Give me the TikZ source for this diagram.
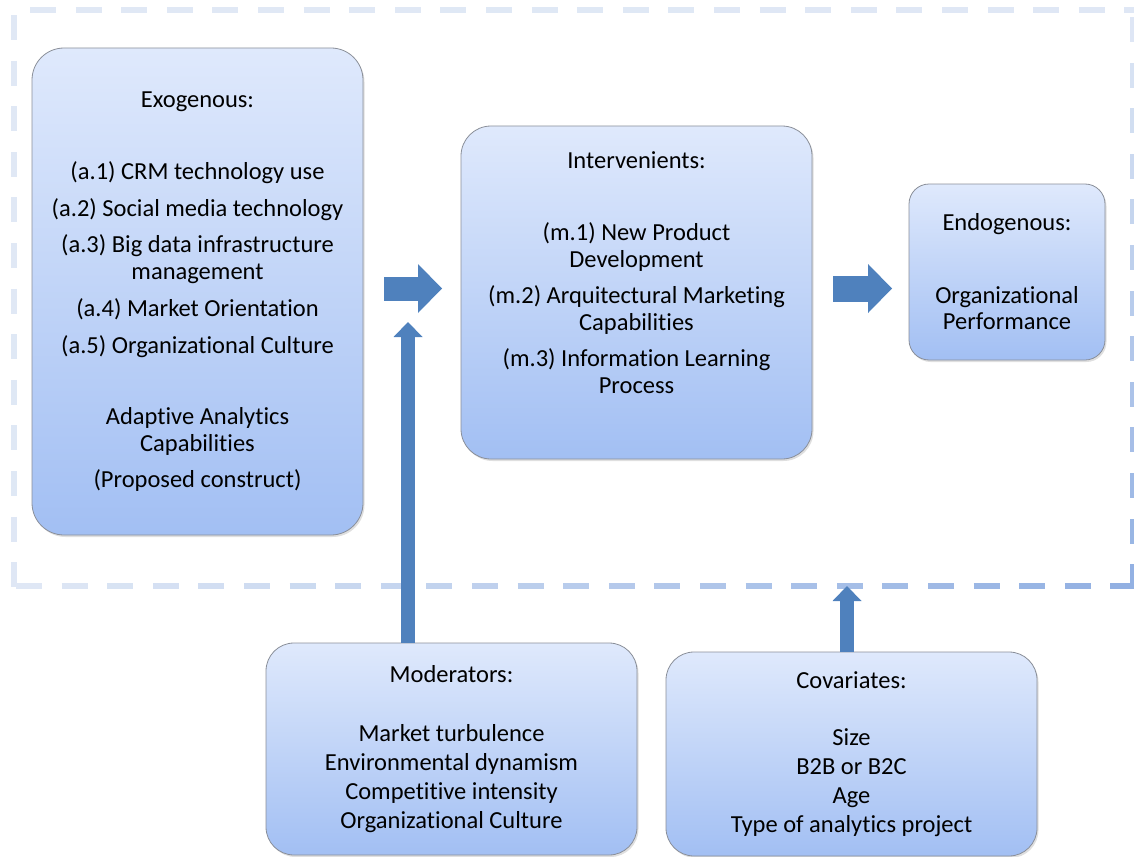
\documentclass[tikz,border=0pt]{standalone}
\usepackage{fontspec}
\setmainfont{Carlito}[Ligatures=NoCommon]
\usetikzlibrary{arrows.meta,shadows}
\definecolor{boxtop}{HTML}{DFE9FC}
\definecolor{boxbot}{HTML}{A2BFF3}
\definecolor{boxline}{HTML}{8A8F99}
\definecolor{arrowblue}{HTML}{4F81BD}
\definecolor{framelight}{HTML}{E0E8F5}
\definecolor{framedark}{HTML}{90AFE2}
\tikzset{
  block/.style={draw=boxline, line width=0.8pt, top color=boxtop, bottom color=boxbot,
    align=center, inner sep=0pt, font=\fontsize{24.5}{26.5}\selectfont,
    drop shadow={shadow xshift=1.5pt, shadow yshift=-2pt, opacity=0.25}},
  fatarrow/.style={draw=arrowblue, line width=#1},
  flow/.style={-{Triangle[length=24pt,width=49pt,line width=0pt]}},
  lift/.style={-{Triangle[length=15pt,width=29pt,line width=0pt]}},
}
\begin{document}
\begin{tikzpicture}[x=1pt,y=-1pt]
\useasboundingbox (0,0) rectangle (1134,856);
% dashed frame, lighter at the top left
\foreach \i in {0,...,24}{
  \pgfmathsetmacro\px{30+45.6*\i}
  \pgfmathsetmacro\pc{100-100*(\px/1134)*(10/586)}
  \draw [framelight!\pc!framedark, line width=6pt] (\px,10) -- ({min(\px+26,1134)},10);
}
\foreach \i in {0,...,24}{
  \pgfmathsetmacro\px{16+45.6*\i}
  \pgfmathsetmacro\pc{100-100*(\px/1134)}
  \draw [framelight!\pc!framedark, line width=6pt] (\px,585.5) -- ({min(\px+26,1134)},585.5);
}
\foreach \i in {0,...,12}{
  \pgfmathsetmacro\py{15+45.6*\i}
  \pgfmathsetmacro\pc{100-100*(14/1134)*(\py/586)}
  \draw [framelight!\pc!framedark, line width=6pt] (14,\py) -- (14,{min(\py+25,588.5)});
}
\foreach \i in {0,...,12}{
  \pgfmathsetmacro\py{17+45.6*\i}
  \pgfmathsetmacro\pc{100-100*(\py/586)}
  \draw [framelight!\pc!framedark, line width=6pt] (1133,\py) -- (1133,{min(\py+25,588.5)});
}
% boxes
\node [block, rounded corners=32pt, minimum width=331pt, minimum height=487pt] (exo) at (197.5,291.5)
  {Exogenous:\\[46pt]
   (a.1) CRM technology use\\[10pt]
   (a.2) Social media technology\\[10pt]
   (a.3) Big data infrastructure\\
   management\\[11pt]
   (a.4) Market Orientation\\[10pt]
   (a.5) Organizational Culture\\[45pt]
   Adaptive Analytics\\
   Capabilities\\[10pt]
   (Proposed construct)};
\node [block, rounded corners=30pt, minimum width=351pt, minimum height=333pt] (int) at (636.5,292.5)
  {Intervenients:\\[46pt]
   (m.1) New Product\\
   Development\\[10pt]
   (m.2) Arquitectural Marketing\\
   Capabilities\\[10pt]
   (m.3) Information Learning\\
   Process\\[6pt]\strut};
\node [block, rounded corners=20pt, minimum width=196pt, minimum height=176pt] (endo) at (1007,272)
  {Endogenous:\\[46pt]
   Organizational\\
   Performance};
\node [block, rounded corners=28pt, minimum width=371pt, minimum height=212pt] (mod) at (451.5,749)
  {Moderators:\\[32pt]
   Market turbulence\\[2.5pt]
   Environmental dynamism\\[2.5pt]
   Competitive intensity\\[2.5pt]
   Organizational Culture};
\node [block, rounded corners=28pt, minimum width=371pt, minimum height=204pt] (cov) at (851.5,754)
  {Covariates:\\[31pt]
   Size\\[2.5pt]
   B2B or B2C\\[2.5pt]
   Age\\[2.5pt]
   Type of analytics project};
% fat arrows
\coordinate (flowA) at (442,288.5);
\coordinate (flowB) at (892,288.5);
\coordinate (modtip) at (408,322);
\coordinate (covtip) at (847,586);
\draw [fatarrow=24pt, flow] (exo.east |- flowA) ++(21,0) -- (flowA);
\draw [fatarrow=26pt, flow] (int.east |- flowB) ++(21,0) -- (flowB);
\draw [fatarrow=14pt, lift] (mod.north -| modtip) -- (modtip);
\draw [fatarrow=14pt, lift] (cov.north -| covtip) -- (covtip);
\end{tikzpicture}
\end{document}
